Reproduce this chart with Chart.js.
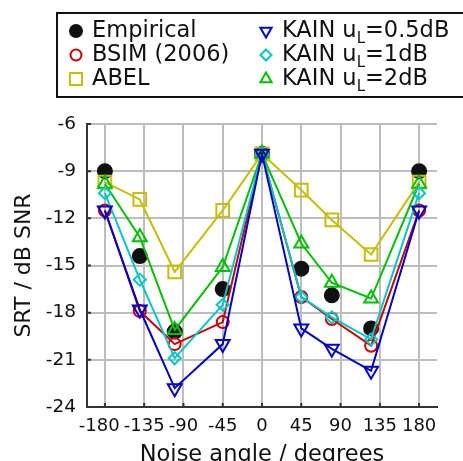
<!DOCTYPE html>
<html>
<head>
<meta charset="utf-8">
<script src="https://cdn.jsdelivr.net/npm/chart.js@4.4.1/dist/chart.umd.min.js"></script>
<style>
  html,body{margin:0;padding:0;background:#fff;}
  #wrap{width:463px;height:461px;}
</style>
</head>
<body>
<div id="wrap"><canvas id="c" width="463" height="461"></canvas></div>
<script>
// noise angles (degrees) and SRT values (dB SNR)
const angles    = [-180, -140, -100, -45, 0, 45, 80, 125, 180];
const empirical = [-9.0, -14.4, -19.2, -16.5, -7.9, -15.2, -16.9, -19.0, -9.0];
const bsim      = [-11.5, -17.9, -20.0, -18.6, -7.9, -17.0, -18.4, -20.1, -11.5];
const abel      = [-9.7, -10.8, -15.4, -11.5, -7.9, -10.2, -12.1, -14.3, -9.7];
const kain05    = [-11.5, -17.8, -22.8, -20.0, -7.9, -19.0, -20.3, -21.7, -11.5];
const kain1     = [-10.4, -15.9, -20.9, -17.5, -7.9, -17.0, -18.3, -19.7, -10.4];
const kain2     = [-9.8, -13.2, -19.1, -15.1, -7.9, -13.6, -16.1, -17.1, -9.8];

const xTicks = [-180, -135, -90, -45, 0, 45, 90, 135, 180];
const yTicks = [-24, -21, -18, -15, -12, -9, -6];

const FONT = 'DejaVu Sans';
const pts = ys => angles.map((a,i)=>({x:a, y:ys[i]}));

const series = [
  {label:'Empirical', data:empirical, color:'#111111', style:'circle', r:7, lr:6, fill:true, line:false, order:6, leg:[0,0]},
  {label:'BSIM (2006)', data:bsim, color:'#cc0000', style:'circle', r:6, lr:5.5, order:5, leg:[0,1]},
  {label:'ABEL', data:abel, color:'#c4c000', style:'rect', r:9, lr:8.5, order:4, leg:[0,2]},
  {label:'KAIN u|L|=0.5dB', data:kain05, color:'#0000cc', style:'triangle', rot:180, r:8, lr:6.5, order:1, leg:[1,0]},
  {label:'KAIN u|L|=1dB', data:kain1, color:'#00c8c8', style:'rectRot', r:6, lr:5.5, order:2, leg:[1,1]},
  {label:'KAIN u|L|=2dB', data:kain2, color:'#00c000', style:'triangle', r:8, lr:6.5, order:3, leg:[1,2]}
];

const datasets = series.map(s=>({
  label:s.label,
  data:pts(s.data),
  borderColor:s.color,
  backgroundColor:s.color,
  showLine:s.line!==false,
  borderWidth:2,
  pointStyle:s.style,
  pointRotation:s.rot||0,
  pointRadius:s.r,
  pointBorderWidth:2,
  pointBorderColor:s.color,
  pointBackgroundColor:s.fill ? s.color : 'rgba(0,0,0,0)',
  order:s.order
}));

// legend box with subscripted text
const legendBox = {
  id:'legendBox',
  afterDraw(chart){
    const ctx = chart.ctx;
    ctx.save();
    ctx.strokeStyle = '#111'; ctx.lineWidth = 2;
    ctx.strokeRect(57, 13, 420, 84);
    const colX = [76, 266], rowY = [31, 55, 79];
    series.forEach(s=>{
      const mx = colX[s.leg[0]], my = rowY[s.leg[1]];
      ctx.save();
      ctx.lineWidth = 2;
      ctx.strokeStyle = s.color;
      ctx.fillStyle = s.fill ? s.color : 'rgba(0,0,0,0)';
      Chart.helpers.drawPoint(ctx, {pointStyle:s.style, rotation:s.rot||0, radius:s.lr, borderWidth:2}, mx, my);
      ctx.restore();
      let tx = mx + 16;
      ctx.fillStyle = '#111';
      ctx.textBaseline = 'middle';
      s.label.split('|').forEach((p,k)=>{
        if (k===1){
          ctx.font = '15px "'+FONT+'"';
          ctx.fillText(p, tx, my+8);
        } else {
          ctx.font = '22.5px "'+FONT+'"';
          ctx.fillText(p, tx, my);
        }
        tx += ctx.measureText(p).width;
      });
    });
    ctx.restore();
  }
};

// small inward tick marks on left and bottom axes
const inTicks = {
  id:'inTicks',
  afterDatasetsDraw(chart){
    const {ctx, chartArea:a, scales:{x,y}} = chart;
    ctx.save();
    ctx.strokeStyle = '#333'; ctx.lineWidth = 2;
    ctx.beginPath();
    xTicks.forEach(v=>{const px=x.getPixelForValue(v); ctx.moveTo(px,a.bottom); ctx.lineTo(px,a.bottom-4);});
    yTicks.forEach(v=>{const py=y.getPixelForValue(v); ctx.moveTo(a.left,py); ctx.lineTo(a.left+4,py);});
    ctx.stroke();
    ctx.restore();
  }
};

new Chart(document.getElementById('c'), {
  type:'scatter',
  data:{datasets},
  plugins:[legendBox, inTicks],
  options:{
    responsive:false,
    animation:false,
    layout:{padding:{top:124, right:26, left:0, bottom:-8}},
    plugins:{legend:{display:false}, tooltip:{enabled:false}},
    scales:{
      x:{
        type:'linear', min:-200.5, max:200.5,
        afterBuildTicks:s=>{s.ticks = xTicks.map(v=>({value:v}));},
        afterFit:s=>{s.height = 62;},
        grid:{color:'#bdbdbd', lineWidth:2, drawTicks:false},
        border:{display:true, color:'#333', width:2},
        ticks:{color:'#111', font:{family:FONT, size:18}, padding:9, maxRotation:0, autoSkip:false,
          callback:v=> v===-180 ? '-180\u00a0\u00a0' : String(v)},
        title:{display:true, text:'Noise angle / degrees', color:'#111', font:{family:FONT, size:22.5}, padding:{top:0, bottom:0}}
      },
      y:{
        type:'linear', min:-24, max:-6,
        afterBuildTicks:s=>{s.ticks = yTicks.map(v=>({value:v}));},
        afterFit:s=>{s.width = 87;},
        grid:{color:'#bdbdbd', lineWidth:2, drawTicks:false},
        border:{display:true, color:'#333', width:2},
        ticks:{color:'#111', font:{family:FONT, size:18.5}, padding:11},
        title:{display:true, text:'SRT / dB SNR', color:'#111', font:{family:FONT, size:22}, padding:{top:11, bottom:0}}
      }
    }
  }
});
</script>
</body>
</html>
